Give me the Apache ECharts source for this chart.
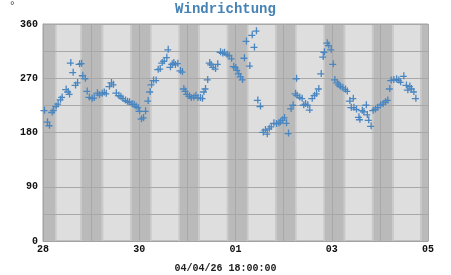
<!DOCTYPE html>
<html>
<head>
<meta charset="utf-8">
<script src="https://cdn.jsdelivr.net/npm/echarts@6/dist/echarts.min.js"></script>
<style>html,body{margin:0;padding:0;background:#fff}#c{width:451px;height:275px}</style>
</head>
<body>
<div id="c"></div>
<script>
// Day labels for x-axis (midnights from 28 March to 05 April)
const dayLabels = ['28', '29', '30', '31', '01', '02', '03', '04', '05'];
const yTickValues = [0, 90, 180, 270, 360];
const titleText = 'Windrichtung';
const unitText = '°';
const stampText = '04/04/26 18:00:00';

// Hours since 28 00:00
const hours = [0.5, 2, 3, 4.3, 5.1, 6.3, 7.3, 8.5, 9.3, 11.3, 12.3, 13, 13.6, 14.8, 16, 17, 18, 19, 19.6, 20.9,
  21.8, 22.9, 24.3, 25.3, 26.9, 27.9, 29.3, 30.3, 31.3, 32.9, 33.9, 34.9, 36.3, 37.6, 38.6, 39.6, 40.9, 41.9, 42.9, 44.2,
  45.2, 46.2, 47.2, 47.9, 48.9, 49.9, 50.9, 52.2, 53.2, 53.9, 54.9, 56.2, 57.2, 58.2, 59.2, 60.2, 61.5, 62.2, 63.3, 64.2,
  65, 65.8, 67, 68.3, 69.3, 70, 70.8, 71.7, 72.8, 73.7, 75, 76, 77, 78.3, 79.3, 80, 80.8, 81.9, 82.9, 83.6,
  84.6, 85.8, 86.9, 88.3, 89.4, 90.3, 91.6, 92.6, 93.8, 94.9, 95.9, 96.6, 97.4, 98.3, 99.3, 100.2, 101.2, 102.9, 104.1, 105.2,
  106.2, 106.9, 108.2, 109.6, 110.7, 111.6, 112.6, 113.6, 114.9, 116.2, 117.4, 118.2, 119.2, 120.2, 121.2, 122.2, 123.5, 124.5, 125.7, 126.2,
  126.5, 127.8, 129, 129.8, 130.7, 131.8, 132.8, 134, 135.2, 136.2, 137.3, 138.5, 139.5, 140.1, 141.5, 142.3, 143.5, 144.5, 145.3, 146.5,
  147.3, 148.1, 149.3, 150.6, 151.5, 152.8, 153.5, 154.5, 154.8, 156.1, 157.3, 157.8, 159, 159.8, 161, 161.5, 162.2, 163.4, 164.4, 165.6,
  166.7, 168.1, 169.4, 170.6, 171.7, 172.7, 173.4, 174.7, 176.1, 177.2, 178.1, 179.7, 181, 181.7, 182.7, 183.5, 184.7, 185.7];

// Wind direction in degrees
const directions = [217, 198, 192, 214, 217, 224, 228, 235, 239, 252, 248, 244, 296, 280, 259, 263, 294, 295, 275, 270,
  249, 239, 237, 238, 246, 243, 245, 247, 245, 257, 263, 260, 246, 242, 240, 237, 234, 232, 231, 228,
  227, 224, 222, 216, 203, 205, 216, 233, 248, 260, 267, 267, 285, 286, 296, 299, 305, 318, 289, 294,
  296, 293, 295, 283, 281, 253, 249, 244, 241, 238, 239, 242, 238, 238, 237, 248, 253, 268, 296, 293,
  289, 286, 294, 314, 312, 313, 310, 308, 303, 290, 288, 284, 278, 273, 268, 304, 332, 291, 342, 322,
  349, 234, 224, 181, 185, 178, 187, 190, 196, 195, 196, 198, 201, 205, 196, 179, 220, 226, 245, 270,
  242, 239, 237, 226, 228, 226, 218, 237, 242, 245, 253, 278, 306, 314, 329, 325, 318, 294, 268, 263,
  260, 257, 255, 252, 249, 233, 222, 237, 222, 219, 206, 202, 217, 215, 226, 210, 201, 191, 217, 219,
  222, 226, 228, 231, 234, 253, 267, 268, 269, 267, 264, 274, 259, 251, 257, 253, 248, 237];

// Daylight periods (local hour of day) for each day 28 .. 04
const sunriseHour = [6.8, 6.1, 6.2, 6.3, 6.5, 6.5, 6.8, 7.0];
const sunsetHour  = [18.5, 19.4, 19.5, 19.6, 19.7, 19.8, 20.0, 20.0];
const twilightHours = 0.8;

const seriesData = hours.map((h, i) => [h, directions[i]]);

// Build background bands
const DARK = '#bababa', TWI = '#c9c9c9';
const bands = [];
const nDays = sunriseHour.length;
let prevDusk = 0;
for (let d = 0; d < nDays; d++) {
  const base = d * 24;
  const rise = base + sunriseHour[d];
  const set = base + sunsetHour[d];
  bands.push([{ xAxis: prevDusk, itemStyle: { color: DARK } }, { xAxis: rise - twilightHours }]);
  bands.push([{ xAxis: rise - twilightHours, itemStyle: { color: TWI } }, { xAxis: rise }]);
  bands.push([{ xAxis: set, itemStyle: { color: TWI } }, { xAxis: set + twilightHours }]);
  prevDusk = set + twilightHours;
}
bands.push([{ xAxis: prevDusk, itemStyle: { color: DARK } }, { xAxis: nDays * 24 }]);

const plus = 'path://M0,3.35H7V4.65H0Z M3.35,0H4.65V7H3.35Z';
const monoFont = '"Liberation Mono", "DejaVu Sans Mono", monospace';

const chart = echarts.init(document.getElementById('c'), null, { renderer: 'canvas' });
chart.setOption({
  animation: false,
  backgroundColor: '#ffffff',
  title: {
    text: titleText, left: 'center', top: -3,
    textStyle: { fontFamily: monoFont, fontWeight: 'bold', fontSize: 14, color: '#4682b4' }
  },
  graphic: [
    { type: 'text', left: 9, top: 1, style: { text: unitText, font: '11px ' + monoFont, fill: '#444' } },
    { type: 'text', left: 'center', top: 263, style: { text: stampText, font: 'bold 10px ' + monoFont, fill: '#222' } }
  ],
  grid: {
    left: 43, right: 23, top: 24, bottom: 34,
    show: true, backgroundColor: '#dedede', borderColor: '#a3a3a3', borderWidth: 1
  },
  xAxis: {
    type: 'value', min: 0, max: (dayLabels.length - 1) * 24, interval: 24, z: 3,
    axisLine: { show: true, lineStyle: { color: '#a3a3a3' } },
    axisTick: { show: false },
    splitLine: { show: true, lineStyle: { color: '#a8a8a8', width: 1 } },
    axisLabel: {
      margin: 3, fontFamily: monoFont, fontWeight: 'bold', fontSize: 10, color: '#111',
      formatter: v => { const k = Math.round(v / 24); return k % 2 === 0 ? dayLabels[k] : ''; }
    }
  },
  yAxis: {
    type: 'value', min: 0, max: 360, interval: 45, z: 3,
    axisLine: { show: true, lineStyle: { color: '#a3a3a3' } },
    axisTick: { show: false },
    splitLine: { show: true, lineStyle: { color: '#a8a8a8', width: 1 } },
    axisLabel: {
      margin: 5, fontFamily: monoFont, fontWeight: 'bold', fontSize: 10, color: '#111',
      formatter: v => yTickValues.includes(v) ? String(v) : ''
    }
  },
  series: [
    {
      type: 'scatter', data: [], z: 1, silent: true,
      markArea: { silent: true, data: bands }
    },
    {
      type: 'scatter', data: seriesData, z: 5,
      symbol: plus, symbolSize: 7,
      itemStyle: { color: '#4a86c0', opacity: 1 }
    }
  ]
});
</script>
</body>
</html>
